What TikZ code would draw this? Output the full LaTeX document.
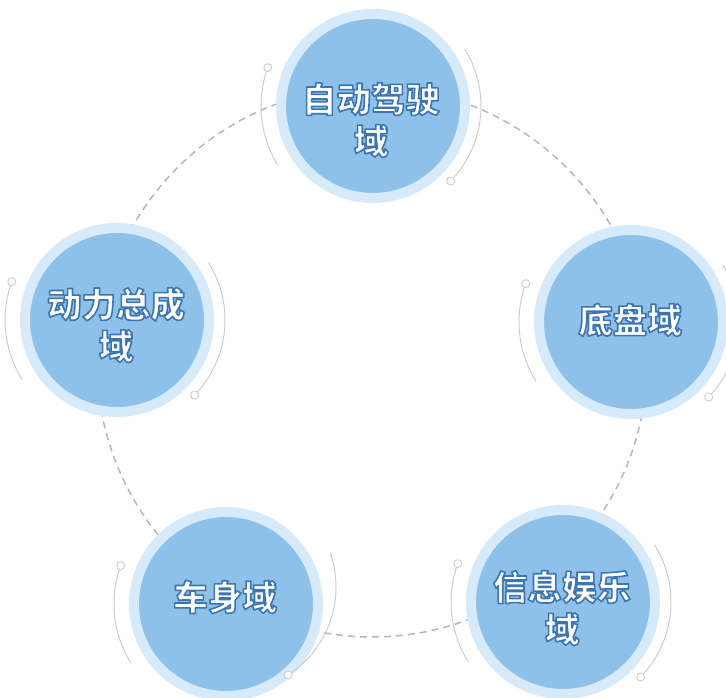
\documentclass[tikz,border=0pt]{standalone}
\usepackage{fontspec}
\newfontfamily\cjk{Noto Sans CJK SC}
\definecolor{ringc}{HTML}{D6EAFA}
\definecolor{innerc}{HTML}{8DC1EA}
\definecolor{dashc}{HTML}{A9BACA}
\definecolor{arcc}{HTML}{C9CED4}
\newcommand\glowtext[1]{\special{pdf:literal direct 2 Tr 1.6 w 1 j 0.24 0.46 0.69 RG}#1\special{pdf:literal direct 0 Tr 1 w}}
\begin{document}
\begin{tikzpicture}[x=1pt,y=1pt,
  dombox/.style={circle, minimum size=184pt, inner sep=0pt, outer sep=0pt, fill=innerc, draw=ringc, line width=10pt},
  lbl/.style={align=center, text=white, font=\cjk\bfseries\fontsize{34.5}{42}\selectfont, inner sep=0pt},
  deco/.style={draw=arcc, line width=1pt},
  dot/.style={circle, draw=arcc, fill=white, line width=0.9pt, minimum size=8pt, inner sep=0pt},
  dashring/.style={draw=dashc, line width=1.5pt, dash pattern=on 7pt off 5pt}]
\useasboundingbox (0,0) rectangle (726,698);
\coordinate (o) at (372,336);
\draw[dashring] (o) circle[radius=275];
\node[dombox] (auto) at (373,592) {};
\node[dombox] (power) at (117,378) {};
\node[dombox] (chassis) at (631,376) {};
\node[dombox] (body) at (226,94) {};
\node[dombox] (info) at (563,96) {};
\foreach \n in {auto,power,chassis,body,info}{
  \draw[deco] ([shift={(160:112)}]\n.center) arc[start angle=160,end angle=212,radius=112];
  \node[dot] (\n-d1) at ([shift={(160:112)}]\n.center) {};
}
\foreach \n in {auto,power,chassis,info}{
  \draw[deco] ([shift={(32:108)}]\n.center) arc[start angle=32,end angle=-44,radius=108];
  \node[dot] (\n-d2) at ([shift={(-44:108)}]\n.center) {};
}
\coordinate (bodyarc) at (231,111);
\draw[deco] ([shift={(19:105)}]bodyarc) arc[start angle=19,end angle=-57,radius=105];
\node[dot] (body-d2) at ([shift={(-57:105)}]bodyarc) {};
\node[lbl] (autoL) at (371,578) {\glowtext{自动驾驶}\\\glowtext{域}};
\node[lbl] (powerL) at (116,373) {\glowtext{动力总成}\\\glowtext{域}};
\node[lbl] (chassisL) at (630,378) {\glowtext{底盘域}};
\node[lbl] (bodyL) at (225,101) {\glowtext{车身域}};
\node[lbl] (infoL) at (562,90) {\glowtext{信息娱乐}\\\glowtext{域}};
\end{tikzpicture}
\end{document}
